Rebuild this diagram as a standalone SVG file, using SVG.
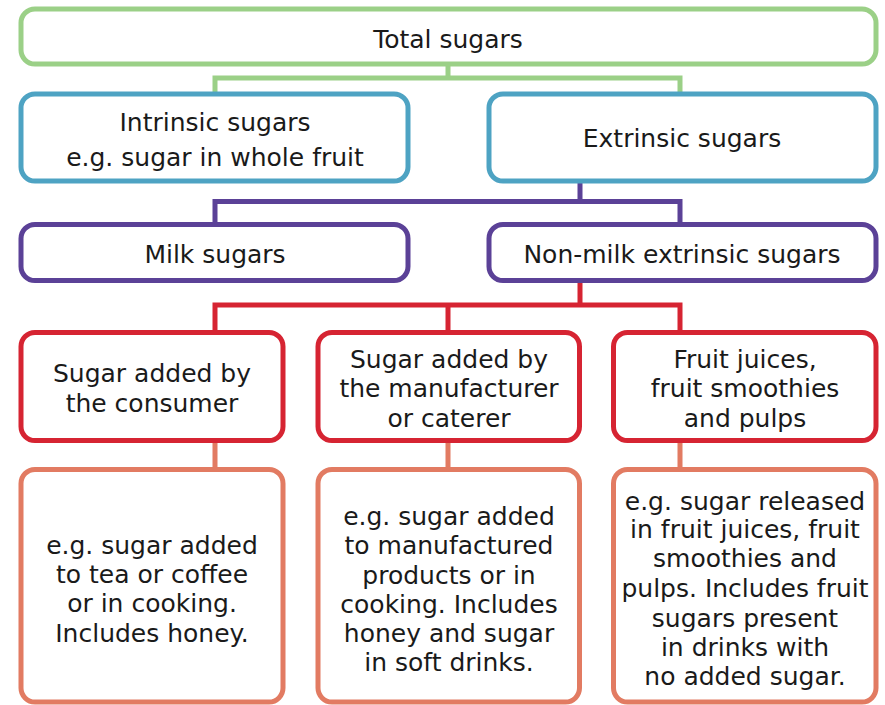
<svg xmlns="http://www.w3.org/2000/svg" width="885" height="705" viewBox="0 0 885 705">
<style>
.box{fill:#fff;stroke-width:5}
.g{stroke:#9bd087}
.b{stroke:#4ea3c3}
.p{stroke:#5b4197}
.r{stroke:#d62432}
.o{stroke:#e27b62}
.c{fill:none;stroke-width:5;stroke-linejoin:miter;stroke-linecap:butt}
text{font-family:"DejaVu Sans","Liberation Sans",sans-serif;font-size:25px;fill:#1a1a1a;text-anchor:middle}
</style>
<rect width="885" height="705" fill="#fff"/>
<g id="connectors">
<path class="c g" d="M448,64 V78 M215,96 V78 H680 V96"/>
<path class="c p" d="M580,181 V201.5 M215,226 V201.5 H680 V226"/>
<path class="c p" d="M580,280 V283"/>
<path class="c r" d="M580,282 V305 M215,334 V305 H680 V334 M448,305 V334"/>
<path class="c o" d="M215,440 V471 M448,440 V471 M680,440 V471"/>
</g>
<g id="total">
<rect class="box g" x="21" y="9" width="855" height="55" rx="14"/>
<text x="448" y="48">Total sugars</text>
</g>
<g id="intrinsic">
<rect class="box b" x="21" y="94" width="387" height="87" rx="14"/>
<text x="215" y="131">Intrinsic sugars</text>
<text x="215" y="166">e.g. sugar in whole fruit</text>
</g>
<g id="extrinsic">
<rect class="box b" x="489" y="94" width="387" height="87" rx="14"/>
<text x="682" y="147">Extrinsic sugars</text>
</g>
<g id="milk">
<rect class="box p" x="21" y="224.5" width="387" height="56" rx="14"/>
<text x="215" y="263">Milk sugars</text>
</g>
<g id="nonmilk">
<rect class="box p" x="489" y="224.5" width="387" height="56" rx="14"/>
<text x="682" y="263">Non-milk extrinsic sugars</text>
</g>
<g id="consumer">
<rect class="box r" x="21" y="332.5" width="262" height="108" rx="14"/>
<text x="152" y="382">Sugar added by</text>
<text x="152" y="412">the consumer</text>
</g>
<g id="manufacturer">
<rect class="box r" x="318" y="332.5" width="261.5" height="108" rx="14"/>
<text x="449" y="368">Sugar added by</text>
<text x="449" y="397">the manufacturer</text>
<text x="449" y="427">or caterer</text>
</g>
<g id="fruit">
<rect class="box r" x="613.5" y="332.5" width="262.5" height="108" rx="14"/>
<text x="745" y="368">Fruit juices,</text>
<text x="745" y="397">fruit smoothies</text>
<text x="745" y="427">and pulps</text>
</g>
<g id="consumer-ex">
<rect class="box o" x="21" y="469.5" width="262" height="232.5" rx="14"/>
<text x="152" y="554">e.g. sugar added</text>
<text x="152" y="583">to tea or coffee</text>
<text x="152" y="612">or in cooking.</text>
<text x="152" y="642">Includes honey.</text>
</g>
<g id="manufacturer-ex">
<rect class="box o" x="318" y="469.5" width="261.5" height="232.5" rx="14"/>
<text x="449" y="525">e.g. sugar added</text>
<text x="449" y="554">to manufactured</text>
<text x="449" y="584">products or in</text>
<text x="449" y="613">cooking. Includes</text>
<text x="449" y="642">honey and sugar</text>
<text x="449" y="671">in soft drinks.</text>
</g>
<g id="fruit-ex">
<rect class="box o" x="613.5" y="469.5" width="262.5" height="232.5" rx="14"/>
<text x="745" y="510">e.g. sugar released</text>
<text x="745" y="538">in fruit juices, fruit</text>
<text x="745" y="567">smoothies and</text>
<text x="745" y="597">pulps. Includes fruit</text>
<text x="745" y="627">sugars present</text>
<text x="745" y="656">in drinks with</text>
<text x="745" y="685">no added sugar.</text>
</g>
</svg>
